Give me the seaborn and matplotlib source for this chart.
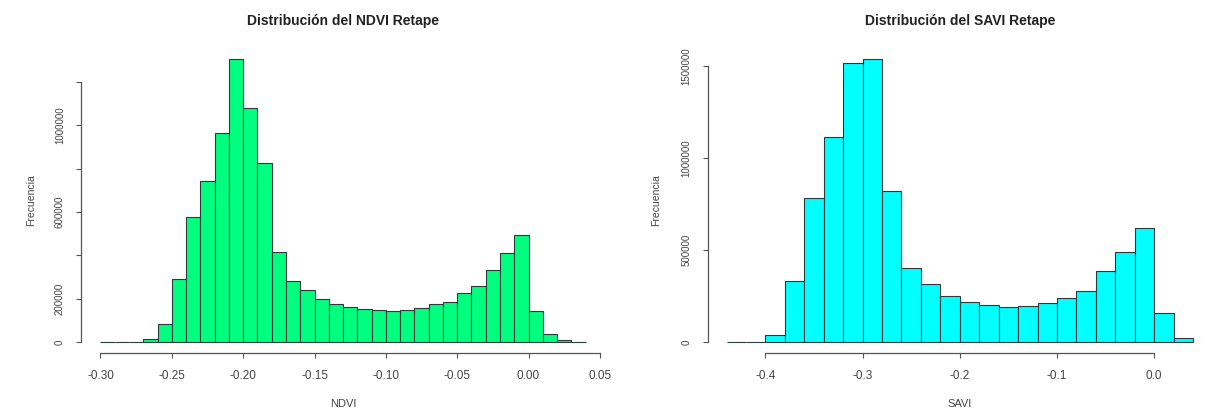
import numpy as np
import pandas as pd
import matplotlib
matplotlib.use("Agg")
import matplotlib.pyplot as plt
import seaborn as sns

# NDVI histogram (bin width 0.01, from -0.30 to 0.04)
ndvi_start, ndvi_width = -0.30, 0.01
ndvi_counts = [0, 0, 0, 15000, 82000, 290000, 577000, 744000, 963000, 1305000,
               1080000, 824000, 416000, 280000, 240000, 199000, 178000, 162000,
               151000, 148000, 142000, 147000, 156000, 174000, 184000, 226000,
               257000, 334000, 410000, 496000, 145000, 37000, 10000, 0]

# SAVI histogram (bin width 0.02, from -0.44 to 0.04)
savi_start, savi_width = -0.44, 0.02
savi_counts = [0, 0, 38000, 330000, 780000, 1116000, 1514000, 1537000, 821000,
               400000, 314000, 252000, 218000, 200000, 189000, 196000, 214000,
               237000, 276000, 388000, 490000, 618000, 160000, 24000]

ndvi_xticks = [-0.30, -0.25, -0.20, -0.15, -0.10, -0.05, 0.00, 0.05]
ndvi_xlabels = ["-0.30", "-0.25", "-0.20", "-0.15", "-0.10", "-0.05", "0.00", "0.05"]
ndvi_yticks = [0, 200000, 400000, 600000, 800000, 1000000, 1200000]
ndvi_ylabels = ["0", "200000", "", "600000", "", "1000000", ""]

savi_xticks = [-0.4, -0.3, -0.2, -0.1, 0.0]
savi_xlabels = ["-0.4", "-0.3", "-0.2", "-0.1", "0.0"]
savi_yticks = [0, 500000, 1000000, 1500000]
savi_ylabels = ["0", "500000", "1000000", "1500000"]

sns.set_style("white")
plt.rcParams["font.family"] = ["Liberation Sans", "DejaVu Sans"]


def make_frame(start, width, counts):
    n = len(counts)
    edges = [round(start + width * i, 4) for i in range(n + 1)]
    centers = [(a + b) / 2 for a, b in zip(edges[:-1], edges[1:])]
    df = pd.DataFrame({"valor": centers, "n": counts})
    return df, edges


def r_hist(ax, start, width, counts, color, title, xlab, xticks, xlabels,
           yticks, ylabels, ylab_x):
    df, edges = make_frame(start, width, counts)
    sns.histplot(data=df, x="valor", weights="n", bins=edges, ax=ax,
                 color=color, alpha=1, edgecolor="#2b3a3a", linewidth=0.8)
    span = edges[-1] - edges[0]
    ax.set_xlim(edges[0] - 0.04 * span, edges[-1] + 0.04 * span)
    top = max(counts)
    ax.set_ylim(-0.04 * top, 1.04 * top)

    for s in ["top", "right"]:
        ax.spines[s].set_visible(False)
    for s in ["left", "bottom"]:
        ax.spines[s].set_color("#555555")
        ax.spines[s].set_linewidth(0.9)
    ax.spines["bottom"].set_bounds(xticks[0], xticks[-1])
    ax.spines["left"].set_bounds(yticks[0], yticks[-1])

    ax.set_xticks(xticks)
    ax.set_xticklabels(xlabels)
    ax.set_yticks(yticks)
    ax.set_yticklabels(ylabels, rotation=90, va="center")
    ax.tick_params(axis="both", direction="out", length=3.6, width=0.8,
                   color="#555555", labelcolor="#444444", pad=8,
                   bottom=True, left=True)
    ax.tick_params(axis="x", labelsize=8.5)
    ax.tick_params(axis="y", labelsize=7)

    ax.set_title(title, fontsize=10, fontweight="bold", color="#222222", pad=16)
    ax.set_xlabel(xlab, fontsize=8, color="#444444")
    ax.xaxis.set_label_coords(0.5, -0.15)
    ax.set_ylabel("Frecuencia", fontsize=7.5, color="#444444")
    ax.yaxis.set_label_coords(ylab_x, 0.5)
    ax.grid(False)


fig = plt.figure(figsize=(12.06, 4.11), dpi=100)
ax1 = fig.add_axes([0.0672, 0.140, 0.4345, 0.744])
ax2 = fig.add_axes([0.587, 0.140, 0.4177, 0.744])

r_hist(ax1, ndvi_start, ndvi_width, ndvi_counts, "#00FF7F",
       "Distribución del NDVI Retape", "NDVI", ndvi_xticks, ndvi_xlabels,
       ndvi_yticks, ndvi_ylabels, -0.085)
r_hist(ax2, savi_start, savi_width, savi_counts, "#00FFFF",
       "Distribución del SAVI Retape", "SAVI", savi_xticks, savi_xlabels,
       savi_yticks, savi_ylabels, -0.093)

fig.savefig("out.png", dpi=100)
